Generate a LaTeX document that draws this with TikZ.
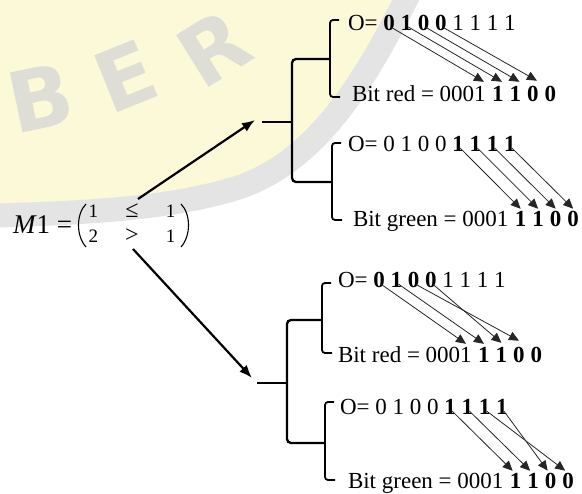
\documentclass[tikz,border=0pt]{standalone}
\usepackage{fontspec}
\setmainfont{Liberation Serif}
\newfontfamily\wmfont{DejaVu Sans}
\usetikzlibrary{arrows.meta,positioning}
\definecolor{wmyellow}{RGB}{251,249,216}
\definecolor{wmgray}{RGB}{222,222,214}
\definecolor{bandgray}{RGB}{228,228,228}
\newcommand\bigtxt{\fontsize{23}{27}\selectfont}
\newcommand\relsz{\fontsize{24}{25}\selectfont}
\tikzset{
  lbl/.style={inner sep=0pt, outer sep=0pt, anchor=base west, font=\bigtxt},
  dg/.style={inner sep=0pt, outer sep=0pt, font=\bigtxt},
  bd/.style={inner sep=0pt, outer sep=0pt, font=\bigtxt\bfseries},
  bit/.style={draw=black!85, line width=0.8pt, -{Triangle[length=10pt,width=9pt]}},
  brk/.style={draw=black, line width=1.8pt, rounded corners=3pt},
  bigbrk/.style={draw=black, line width=2.3pt, rounded corners=4pt},
  paren/.style={draw=black, line width=1.1pt},
  mainarrow/.style={draw=black, line width=2.2pt, -{Latex[length=13pt,width=10pt]}},
  wm/.style={font=\wmfont\bfseries\fontsize{84}{90}\selectfont, text=wmgray, inner sep=0pt},
}
\newcommand\mkrow[4]{%
  \node[lbl] (#10) at #2 {#3};
  \foreach \d/\s/\g [count=\i] in {#4} {
    \pgfmathtruncatemacro\j{\i-1}
    \node[\s, base right=\g of #1\j] (#1\i) {\d};
  }}
\begin{document}
\begin{tikzpicture}[x=1pt,y=-1pt]
\useasboundingbox (0,0) rectangle (582,494);
\fill[white] (0,0) rectangle (582,494);
% watermark background
\fill[wmyellow] (0,0) -- (405,0) .. controls (365,70) and (320,150) .. (240,178) .. controls (160,205) and (60,208) .. (0,210) -- cycle;
\draw[bandgray, line width=24pt] (412,-12) .. controls (370,70) and (325,155) .. (243,186) .. controls (165,212) and (60,213) .. (-12,216);
\node[wm, rotate=12] (wB) at (40,98) {B};
\node[wm, rotate=22] (wE) at (126,76) {E};
\node[wm, rotate=32] (wR) at (214,48) {R};

% matrix M1
\node[lbl, font=\fontsize{27}{30}\selectfont] (m) at (13,234) {\textit{M}1 =};
\node[inner sep=0pt, font=\fontsize{19}{25}\selectfont] (mx) at (132,225.5)
  {\begin{tabular}{@{}c@{\hspace{27pt}}c@{\hspace{27pt}}c@{}}1 & {\relsz ≤} & 1\\ 2 & {\relsz >} & 1\end{tabular}};
\draw[paren] (86,204) .. controls (76,214) and (76,236) .. (86,247);
\draw[paren] (181,204) .. controls (191,214) and (191,236) .. (181,247);

\coordinate (a1s) at (138,199);
\coordinate (a1e) at (255,120);
\coordinate (a2s) at (133,249);
\coordinate (a2e) at (252,378);
\draw[mainarrow] (a1s) -- (a1e);
\draw[mainarrow] (a2s) -- (a2e);

% upper big bracket
\draw[bigbrk] (330,59) -- (292,59) -- (292,182) -- (332,182);
\draw[bigbrk] (262,122) -- (292,122);
% lower big bracket
\draw[bigbrk] (322,320) -- (287,320) -- (287,443) -- (325,443);
\draw[bigbrk] (257,383) -- (287,383);

% small brackets
\draw[brk] (339,20) -- (330,20) -- (330,97) -- (340,97);
\draw[brk] (341,143) -- (332,143) -- (332,220) -- (342,220);
\draw[brk] (331,283) -- (322,283) -- (322,353) -- (332,353);
\draw[brk] (334,402) -- (325,402) -- (325,480) -- (335,480);

% rows
\mkrow{A}{(348,31)}{O=}{0/bd/5.75pt,1/bd/5.75pt,0/bd/5.75pt,0/bd/5.75pt,1/dg/5.75pt,1/dg/5.75pt,1/dg/5.75pt,1/dg/5.75pt}
\mkrow{B}{(352,102)}{Bit red =}{0/dg/5.75pt,0/dg/0pt,0/dg/0pt,1/dg/0pt,1/bd/6.5pt,1/bd/6pt,0/bd/6pt,0/bd/6pt}
\mkrow{C}{(348,152)}{O=}{0/dg/5.75pt,1/dg/5.75pt,0/dg/5.75pt,0/dg/5.75pt,1/bd/5.75pt,1/bd/5.75pt,1/bd/5.75pt,1/bd/5.75pt}
\mkrow{D}{(353,227)}{Bit green =}{0/dg/5.75pt,0/dg/0pt,0/dg/0pt,1/dg/0pt,1/bd/6.5pt,1/bd/6pt,0/bd/6pt,0/bd/6pt}
\mkrow{E}{(338,288)}{O=}{0/bd/5.75pt,1/bd/5.75pt,0/bd/5.75pt,0/bd/5.75pt,1/dg/5.75pt,1/dg/5.75pt,1/dg/5.75pt,1/dg/5.75pt}
\mkrow{F}{(338,363)}{Bit red =}{0/dg/5.75pt,0/dg/0pt,0/dg/0pt,1/dg/0pt,1/bd/6.5pt,1/bd/6pt,0/bd/6pt,0/bd/6pt}
\mkrow{G}{(340,415)}{O=}{0/dg/5.75pt,1/dg/5.75pt,0/dg/5.75pt,0/dg/5.75pt,1/bd/5.75pt,1/bd/5.75pt,1/bd/5.75pt,1/bd/5.75pt}
\mkrow{H}{(348,489)}{Bit green =}{0/dg/5.75pt,0/dg/0pt,0/dg/0pt,1/dg/0pt,1/bd/6.5pt,1/bd/6pt,0/bd/6pt,0/bd/6pt}

% bit arrows
\draw[bit] ([xshift=2pt,yshift=4pt]A1.south) -- ([xshift=4pt,yshift=5pt]B4.north);
\draw[bit] ([xshift=2pt,yshift=4pt]A2.south) -- ([xshift=4pt,yshift=5pt]B5.north);
\draw[bit] ([xshift=2pt,yshift=4pt]A3.south) -- ([xshift=4pt,yshift=5pt]B6.north);
\draw[bit] ([xshift=2pt,yshift=4pt]A4.south) -- ([xshift=4pt,yshift=6pt]B7.north);

\draw[bit] ([xshift=2pt,yshift=4pt]C5.south) -- ([yshift=3pt]D5.north);
\draw[bit] ([xshift=2pt,yshift=4pt]C6.south) -- ([yshift=3pt]D6.north);
\draw[bit] ([xshift=2pt,yshift=4pt]C7.south) -- ([yshift=3pt]D7.north);
\draw[bit] ([xshift=2pt,yshift=4pt]C8.south) -- ([yshift=3pt]D8.north);

\draw[bit] ([xshift=2pt,yshift=4pt]E1.south) -- ([yshift=4pt]F4.north);
\draw[bit] ([xshift=2pt,yshift=4pt]E2.south) -- ([yshift=4pt]F5.north);
\draw[bit] ([xshift=2pt,yshift=4pt]E3.south) -- ([yshift=7pt]F7.north);
\draw[bit] ([xshift=2pt,yshift=4pt]E4.south) -- ([yshift=5pt]F6.north);

\draw[bit] ([xshift=2pt,yshift=4pt]G5.south) -- ([xshift=-3pt,yshift=3pt]H5.north);
\draw[bit] ([xshift=2pt,yshift=4pt]G6.south) -- ([xshift=-3pt,yshift=3pt]H6.north);
\draw[bit] ([xshift=2pt,yshift=4pt]G7.south) -- ([xshift=-3pt,yshift=3pt]H8.north);
\draw[bit] ([xshift=2pt,yshift=4pt]G8.south) -- ([xshift=-3pt,yshift=3pt]H7.north);
\end{tikzpicture}
\end{document}
